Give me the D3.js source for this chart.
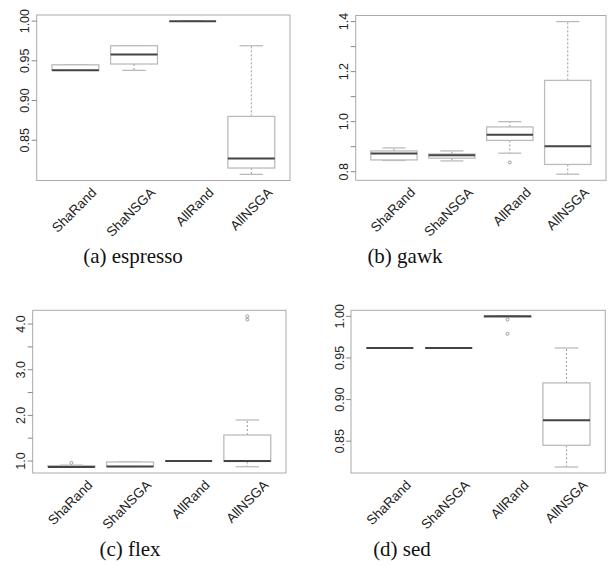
<!DOCTYPE html>
<html>
<head>
<meta charset="utf-8">
<script src="https://cdn.jsdelivr.net/npm/d3@7"></script>
<style>
  body { margin: 0; background: #fff; }
  .tick-label { font-family: "Liberation Sans", Arial, sans-serif; fill: #222; }
  .caption { font-family: "Liberation Serif", "Times New Roman", serif; fill: #111; }
</style>
</head>
<body>
<div id="chart"></div>
<script>
// categories shared by all four panels
var methods = ["ShaRand", "ShaNSGA", "AllRand", "AllNSGA"];

// box stats per method: [lower whisker, Q1, median, Q3, upper whisker]
var espressoStats = [
  [0.938, 0.938, 0.938, 0.945, 0.945],
  [0.938, 0.946, 0.958, 0.969, 0.969],
  [1.000, 1.000, 1.000, 1.000, 1.000],
  [0.807, 0.815, 0.827, 0.880, 0.969]
];
var espressoOutliers = [[], [], [], []];
var espressoTicks = [0.85, 0.90, 0.95, 1.00];
var espressoLabels = ["0.85", "0.90", "0.95", "1.00"];

var gawkStats = [
  [0.845, 0.847, 0.873, 0.883, 0.895],
  [0.843, 0.854, 0.866, 0.871, 0.883],
  [0.874, 0.925, 0.948, 0.979, 1.000],
  [0.790, 0.829, 0.902, 1.165, 1.400]
];
var gawkOutliers = [[], [], [0.837], []];
var gawkTicks = [0.8, 0.9, 1.0, 1.1, 1.2, 1.3, 1.4];
var gawkLabels = ["0.8", "", "1.0", "", "1.2", "", "1.4"];

var flexStats = [
  [0.87, 0.87, 0.87, 0.90, 0.91],
  [0.88, 0.88, 0.88, 0.98, 0.98],
  [1.00, 1.00, 1.00, 1.00, 1.00],
  [0.875, 0.99, 1.00, 1.57, 1.90]
];
var flexOutliers = [[0.96], [], [], [4.17, 4.10]];
var flexTicks = [1.0, 1.5, 2.0, 2.5, 3.0, 3.5, 4.0];
var flexLabels = ["1.0", "", "2.0", "", "3.0", "", "4.0"];

var sedStats = [
  [0.962, 0.962, 0.962, 0.962, 0.962],
  [0.962, 0.962, 0.962, 0.962, 0.962],
  [1.000, 0.999, 1.000, 1.000, 1.000],
  [0.819, 0.845, 0.875, 0.920, 0.962]
];
var sedOutliers = [[], [], [0.996, 0.979], []];
var sedTicks = [0.85, 0.90, 0.95, 1.00];
var sedLabels = ["0.85", "0.90", "0.95", "1.00"];

var captions = ["(a) espresso", "(b) gawk", "(c) flex", "(d) sed"];

var W = 613, H = 566;
var svg = d3.select("#chart").append("svg").attr("width", W).attr("height", H);

var panels = [
  {stats: espressoStats, out: espressoOutliers, ticks: espressoTicks, labels: espressoLabels,
   x0: 36.7, x1: 290, y0: 15, y1: 180.5, cx: 133, cy: 263},
  {stats: gawkStats, out: gawkOutliers, ticks: gawkTicks, labels: gawkLabels,
   x0: 355.7, x1: 606, y0: 15.5, y1: 180.3, cx: 405, cy: 263},
  {stats: flexStats, out: flexOutliers, ticks: flexTicks, labels: flexLabels,
   x0: 32.7, x1: 286, y0: 310.3, y1: 473, cx: 130, cy: 556},
  {stats: sedStats, out: sedOutliers, ticks: sedTicks, labels: sedLabels,
   x0: 351, x1: 605.3, y0: 310.3, y1: 473, cx: 402, cy: 556}
];

panels.forEach(function (p, pi) {
  var g = svg.append("g");

  // R style extents: 4% padding on both axes
  var lo = d3.min(p.stats, function (s) { return s[0]; });
  var hi = d3.max(p.stats, function (s) { return s[4]; });
  p.out.forEach(function (o) { o.forEach(function (v) { lo = Math.min(lo, v); hi = Math.max(hi, v); }); });
  var pad = (hi - lo) * 0.04;

  var y = d3.scaleLinear().domain([lo - pad, hi + pad]).range([p.y1, p.y0]);
  var x = d3.scaleLinear().domain([0.34, 4.66]).range([p.x0, p.x1]);
  var bw = (x(1.4) - x(0.6));

  // frame
  g.append("rect")
    .attr("x", p.x0).attr("y", p.y0)
    .attr("width", p.x1 - p.x0).attr("height", p.y1 - p.y0)
    .attr("fill", "none").attr("stroke", "#aaa").attr("stroke-width", 1);

  // y axis ticks
  g.selectAll(".yt").data(p.ticks).enter().append("line")
    .attr("x1", p.x0 - 5).attr("x2", p.x0)
    .attr("y1", function (d) { return y(d); }).attr("y2", function (d) { return y(d); })
    .attr("stroke", "#888");

  g.selectAll(".yl").data(p.ticks).enter().append("text")
    .attr("class", "tick-label")
    .attr("font-size", 12.5)
    .attr("text-anchor", "middle")
    .attr("transform", function (d) { return "translate(" + (p.x0 - 7.5) + "," + y(d) + ") rotate(-90)"; })
    .text(function (d, i) { return p.labels[i]; });

  // boxes
  p.stats.forEach(function (s, i) {
    var c = x(i + 1);
    var cap = bw / 4;
    // whiskers
    g.append("line").attr("x1", c).attr("x2", c).attr("y1", y(s[3])).attr("y2", y(s[4]))
      .attr("stroke", "#999").attr("stroke-dasharray", "2,2");
    g.append("line").attr("x1", c).attr("x2", c).attr("y1", y(s[1])).attr("y2", y(s[0]))
      .attr("stroke", "#999").attr("stroke-dasharray", "2,2");
    g.append("line").attr("x1", c - cap).attr("x2", c + cap).attr("y1", y(s[4])).attr("y2", y(s[4]))
      .attr("stroke", "#bbb").attr("stroke-width", 1.3);
    g.append("line").attr("x1", c - cap).attr("x2", c + cap).attr("y1", y(s[0])).attr("y2", y(s[0]))
      .attr("stroke", "#bbb").attr("stroke-width", 1.3);
    // box
    g.append("rect")
      .attr("x", c - bw / 2).attr("y", y(s[3]))
      .attr("width", bw).attr("height", Math.max(0, y(s[1]) - y(s[3])))
      .attr("fill", "#fff").attr("stroke", "#bbb").attr("stroke-width", 1.3);
    // median
    g.append("line").attr("x1", c - bw / 2).attr("x2", c + bw / 2)
      .attr("y1", y(s[2])).attr("y2", y(s[2]))
      .attr("stroke", "#444").attr("stroke-width", 2);
    // outliers
    p.out[i].forEach(function (v) {
      g.append("circle").attr("cx", c).attr("cy", y(v)).attr("r", 1.5)
        .attr("fill", "none").attr("stroke", "#888").attr("stroke-width", 0.8);
    });
  });

  // x labels, rotated 45 degrees
  g.selectAll(".xl").data(methods).enter().append("text")
    .attr("class", "tick-label")
    .attr("font-size", 13.5)
    .attr("text-anchor", "end")
    .attr("transform", function (d, i) { return "translate(" + (x(i + 1) + 22) + "," + (p.y1 + 13) + ") rotate(-45)"; })
    .text(function (d) { return d; });

  // caption
  g.append("text").attr("class", "caption")
    .attr("x", p.cx).attr("y", p.cy)
    .attr("font-size", 21)
    .attr("text-anchor", "middle")
    .text(captions[pi]);
});
</script>
</body>
</html>
